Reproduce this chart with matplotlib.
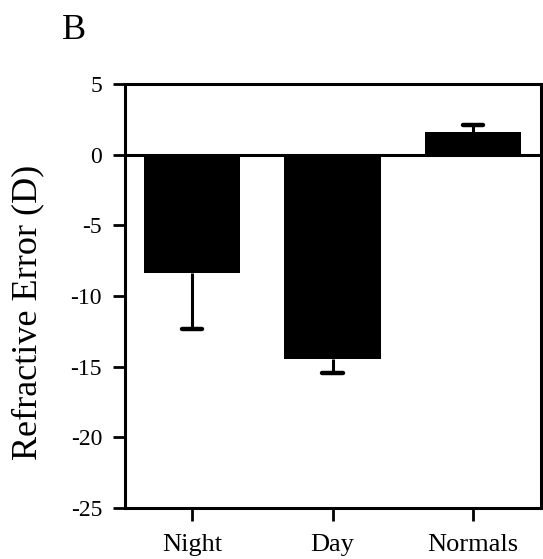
import matplotlib
matplotlib.use("Agg")
import matplotlib.pyplot as plt
import numpy as np

categories = ["Night", "Day", "Normals"]
values = [-8.4, -14.45, 1.6]
err_lower = [3.9, 1.0, 0.0]
err_upper = [0.0, 0.0, 0.5]
yticks = [5, 0, -5, -10, -15, -20, -25]

plt.rcParams['font.family'] = ['Liberation Serif', 'DejaVu Serif']

fig = plt.figure(figsize=(5.43, 5.59), dpi=100)
ax = fig.add_axes([0.2302, 0.0912, 0.7661, 0.7585])

x = np.arange(len(categories))
vals = np.array(values)
lo = np.array(err_lower)
up = np.array(err_upper)
ax.bar(x, vals, width=0.69, color='black', zorder=2)

# one-sided error bars (away from zero)
ends = np.where(vals < 0, vals - lo, vals + up)
cap_half = 0.072
ax.vlines(x, vals, ends, colors='black', lw=2.2, zorder=3)
ax.hlines(ends, x - cap_half, x + cap_half, colors='black', lw=3.2, zorder=3,
          capstyle='round')
ax.axhline(0, color='black', lw=2.2, zorder=4)

ax.set_xlim(-0.477, 2.484)
ax.set_ylim(-25, 5)
ax.set_yticks(yticks)
ax.set_yticklabels([str(t) for t in yticks], fontsize=17)
ax.set_xticks(x)
ax.set_xticklabels(categories, fontsize=19)
ax.tick_params(axis='y', direction='out', length=9, width=2, pad=7.5)
ax.tick_params(axis='x', direction='out', length=9, width=2, pad=10)
for s in ax.spines.values():
    s.set_linewidth(2.2)

ax.set_ylabel("Refractive Error (D)", fontsize=26)
ax.yaxis.set_label_coords(-0.195, 0.462)
fig.text(62/543, 1 - 39/559, "B", fontsize=26, ha='left', va='baseline')

fig.savefig("out.png", dpi=100)
